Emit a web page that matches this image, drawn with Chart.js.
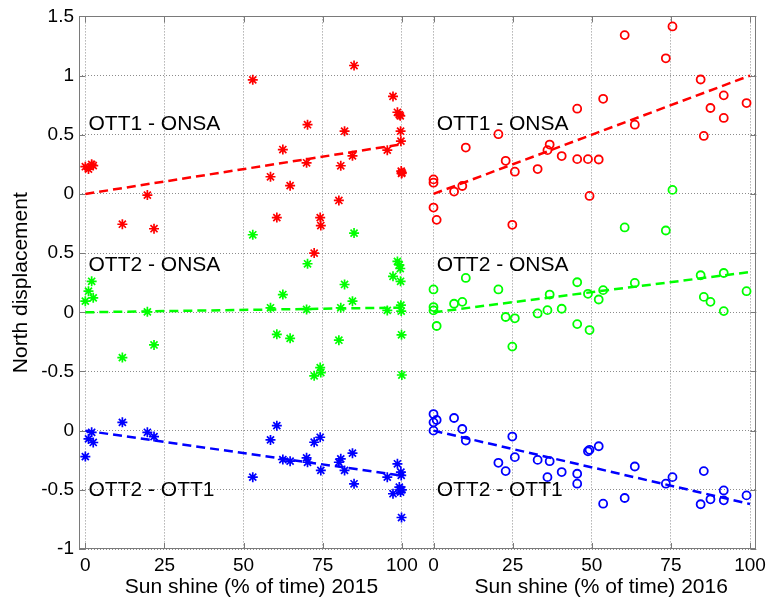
<!DOCTYPE html>
<html>
<head>
<meta charset="utf-8">
<script src="https://cdn.jsdelivr.net/npm/chart.js@4"></script>
<style>
html,body{margin:0;padding:0;background:#ffffff;}
#wrap{width:771px;height:607px;position:relative;}
</style>
</head>
<body>
<div id="wrap"><canvas id="c" width="771" height="607"></canvas></div>
<script>
// ---------------- DATA ----------------
const sun2015 = [0, 1, 2, 2.5, 11.7, 19.6, 21.7, 52.9, 58.5, 60.5, 62.4, 64.7, 69.9, 70.2, 72.3, 74.2, 74.4, 80.1, 80.7, 81.9, 84.4, 84.9, 95.4, 97.2, 98.6, 99.2, 99.5, 99.6, 99.7, 99.8, 99.9, 100];
const ott1onsa2015 = [0.23, 0.21, 0.25, 0.24, -0.256, -0.01, -0.294, 0.964, 0.145, -0.2, 0.375, 0.07, 0.263, 0.585, -0.5, -0.2, -0.267, -0.055, 0.238, 0.53, 0.322, 1.085, 0.37, 0.824, 0.69, 0.67, 0.66, 0.53, 0.446, 0.193, 0.173, 0.18];
const ott2onsa2015 = [0.094, 0.178, 0.262, 0.122, -0.383, 0.004, -0.276, 0.655, 0.038, -0.186, 0.15, -0.22, 0.024, 0.41, -0.537, -0.467, -0.509, -0.236, 0.038, 0.235, 0.094, 0.669, 0.016, 0.304, 0.43, 0.40, 0.37, 0.262, 0.06, 0.01, -0.19, -0.53];
const ott2ott1_2015 = [-0.219, -0.07, -0.014, -0.1, 0.07, -0.014, -0.05, -0.393, -0.078, 0.042, -0.244, -0.258, -0.23, -0.267, -0.098, -0.056, -0.336, -0.267, -0.238, -0.336, -0.19, -0.449, -0.393, -0.533, -0.28, -0.477, -0.499, -0.519, -0.35, -0.378, -0.734, -0.5];

const sun2016 = [0, 0, 0, 1, 6.5, 9.1, 10.2, 20.5, 22.8, 24.9, 25.7, 32.9, 36.0, 36.7, 40.5, 45.4, 45.4, 48.8, 49.3, 52.2, 53.6, 60.4, 63.6, 73.4, 75.5, 84.4, 85.4, 87.5, 91.7, 91.7, 98.9];
const ott1onsa2016 = [0.123, 0.095, -0.115, -0.219, 0.02, 0.067, 0.392, 0.505, 0.28, -0.261, 0.188, 0.21, 0.37, 0.417, 0.32, 0.72, 0.294, 0.294, -0.017, 0.291, 0.804, 1.342, 0.585, 1.146, 1.415, 0.967, 0.49, 0.726, 0.833, 0.642, 0.768];
const ott2onsa2016 = [0.193, 0.044, 0.016, -0.116, 0.072, 0.088, 0.29, 0.193, -0.04, -0.29, -0.051, -0.01, 0.018, 0.15, 0.03, 0.254, -0.10, 0.156, -0.15, 0.108, 0.187, 0.717, 0.248, 0.691, 1.034, 0.313, 0.13, 0.088, 0.332, 0.01, 0.178];
const ott2ott1_2016 = [0.14, 0.07, 0.0, 0.09, 0.107, 0.014, -0.084, -0.272, -0.342, -0.05, -0.224, -0.247, -0.393, -0.258, -0.35, -0.364, -0.448, -0.174, -0.162, -0.132, -0.617, -0.569, -0.303, -0.448, -0.393, -0.622, -0.342, -0.58, -0.505, -0.589, -0.547];

// trend line end points (sunshine 0 and 100)
const trendSun = [0, 100];
const trend2015_ott1onsa = [0, 0.42];
const trend2015_ott2onsa = [0, 0.04];
const trend2015_ott2ott1 = [0, -0.38];
const trend2016_ott1onsa = [0, 1.0];
const trend2016_ott2onsa = [0, 0.34];
const trend2016_ott2ott1 = [0, -0.62];

const seriesNames = ['OTT1 - ONSA', 'OTT2 - ONSA', 'OTT2 - OTT1'];
const xTickValues = [0, 25, 50, 75, 100];
const xTickLabels = ['0', '25', '50', '75', '100'];
const yTickLabels = ['1.5', '1', '0.5', '0', '0.5', '0', '-0.5', '0', '-0.5', '-1'];
const xAxisLabels = ['Sun shine (% of time) 2015', 'Sun shine (% of time) 2016'];
const yAxisLabel = 'North displacement';

// ---------------- LAYOUT / STYLE ----------------
const FONT = "'Liberation Sans', Arial, Helvetica, sans-serif";
const year2016Shift = 110;          // 2016 panel placed to the right of 2015
const stackOffsets = [0, -1, -2];   // vertical offsets of the three series
const colors = ['#ff0000', '#00ff00', '#0000ff'];
const xPanelTicks = xTickValues.concat(xTickValues.map(v => v + year2016Shift));
const xPanelLabels = xTickLabels.concat(xTickLabels);
const labelPos = [ {x: 1, y: 0.59}, {x: 1, y: -0.605}, {x: 1, y: -2.503} ];
const xLabelCenters = [52.5, 163];

const vals2015 = [ott1onsa2015, ott2onsa2015, ott2ott1_2015];
const vals2016 = [ott1onsa2016, ott2onsa2016, ott2ott1_2016];
const trends2015 = [trend2015_ott1onsa, trend2015_ott2onsa, trend2015_ott2ott1];
const trends2016 = [trend2016_ott1onsa, trend2016_ott2onsa, trend2016_ott2ott1];

const datasets = [];
for (let g = 0; g < 3; g++) {
  const off = stackOffsets[g];
  datasets.push({
    label: seriesNames[g] + ' 2015',
    data: sun2015.map((s, i) => ({x: s, y: vals2015[g][i] + off})),
    showLine: false, pointStyle: 'star', pointRadius: 5, pointBorderWidth: 1.7,
    borderColor: colors[g], backgroundColor: colors[g], pointBorderColor: colors[g]
  });
  datasets.push({
    label: seriesNames[g] + ' 2016',
    data: sun2016.map((s, i) => ({x: s + year2016Shift, y: vals2016[g][i] + off})),
    showLine: false, pointStyle: 'circle', pointRadius: 4, pointBorderWidth: 1.8,
    borderColor: colors[g], pointBorderColor: colors[g], pointBackgroundColor: 'rgba(0,0,0,0)'
  });
  datasets.push({
    label: seriesNames[g] + ' trend 2015',
    data: trendSun.map((s, i) => ({x: s, y: trends2015[g][i] + off})),
    showLine: true, pointRadius: 0, borderColor: colors[g], borderWidth: 2.5, borderDash: [9, 5], fill: false
  });
  datasets.push({
    label: seriesNames[g] + ' trend 2016',
    data: trendSun.map((s, i) => ({x: s + year2016Shift, y: trends2016[g][i] + off})),
    showLine: true, pointRadius: 0, borderColor: colors[g], borderWidth: 2.5, borderDash: [9, 5], fill: false
  });
}

const framePlugin = {
  id: 'frame',
  beforeDatasetsDraw(chart) {
    const {ctx, chartArea: a, scales: {x, y}} = chart;
    ctx.save();
    ctx.strokeStyle = '#7a7a7a';
    ctx.lineWidth = 1;
    const L = 6;
    ctx.beginPath();
    x.ticks.forEach(t => {
      const px = Math.round(x.getPixelForValue(t.value)) + 0.5;
      ctx.moveTo(px, a.bottom); ctx.lineTo(px, a.bottom - L);
      ctx.moveTo(px, a.top); ctx.lineTo(px, a.top + L);
    });
    y.ticks.forEach(t => {
      const py = Math.round(y.getPixelForValue(t.value)) + 0.5;
      ctx.moveTo(a.left, py); ctx.lineTo(a.left + L, py);
      ctx.moveTo(a.right, py); ctx.lineTo(a.right - L, py);
    });
    ctx.stroke();
    ctx.strokeRect(Math.round(a.left) + 0.5, Math.round(a.top) + 0.5, Math.round(a.width) - 1, Math.round(a.height) - 1);
    ctx.restore();
  }
};

const textPlugin = {
  id: 'texts',
  afterDraw(chart) {
    const {ctx, scales: {x, y}} = chart;
    ctx.save();
    ctx.fillStyle = '#000';
    ctx.font = '21px ' + FONT;
    ctx.textBaseline = 'middle';
    ctx.textAlign = 'left';
    for (let g = 0; g < 3; g++) {
      const p = labelPos[g];
      ctx.fillText(seriesNames[g], x.getPixelForValue(p.x), y.getPixelForValue(p.y));
      ctx.fillText(seriesNames[g], x.getPixelForValue(p.x + year2016Shift), y.getPixelForValue(p.y));
    }
    ctx.textAlign = 'center';
    xAxisLabels.forEach((t, i) => {
      ctx.fillText(t, x.getPixelForValue(xLabelCenters[i]), 587);
    });
    ctx.restore();
  }
};

new Chart(document.getElementById('c'), {
  type: 'scatter',
  data: { datasets },
  options: {
    responsive: false,
    animation: false,
    devicePixelRatio: 1,
    layout: { padding: { top: 14, right: 14, left: 0, bottom: 0 } },
    plugins: { legend: { display: false }, tooltip: { enabled: false } },
    scales: {
      x: {
        type: 'linear', min: -2, max: 212,
        afterBuildTicks: s => { s.ticks = xPanelTicks.map(v => ({value: v})); },
        afterFit: s => { s.height = 58; },
        ticks: {
          autoSkip: false, maxRotation: 0, minRotation: 0, padding: 5, color: '#000',
          font: { family: FONT, size: 19 },
          callback: (v) => { const i = xPanelTicks.indexOf(v); return i >= 0 ? xPanelLabels[i] : ''; }
        },
        grid: { color: '#8c8c8c', lineWidth: 1, drawTicks: false },
        border: { display: false, dash: [1, 2] }
      },
      y: {
        type: 'linear', min: -3, max: 1.5,
        afterFit: s => { s.width = 79; },
        ticks: {
          stepSize: 0.5, padding: 5, color: '#000',
          font: { family: FONT, size: 19 },
          callback: (v) => yTickLabels[Math.round((1.5 - v) / 0.5)]
        },
        grid: { color: '#8c8c8c', lineWidth: 1, drawTicks: false },
        border: { display: false, dash: [1, 2] },
        title: { display: true, text: yAxisLabel, color: '#000', font: { family: FONT, size: 21 }, padding: { top: 9, bottom: 0 } }
      }
    }
  },
  plugins: [framePlugin, textPlugin]
});
</script>
</body>
</html>
